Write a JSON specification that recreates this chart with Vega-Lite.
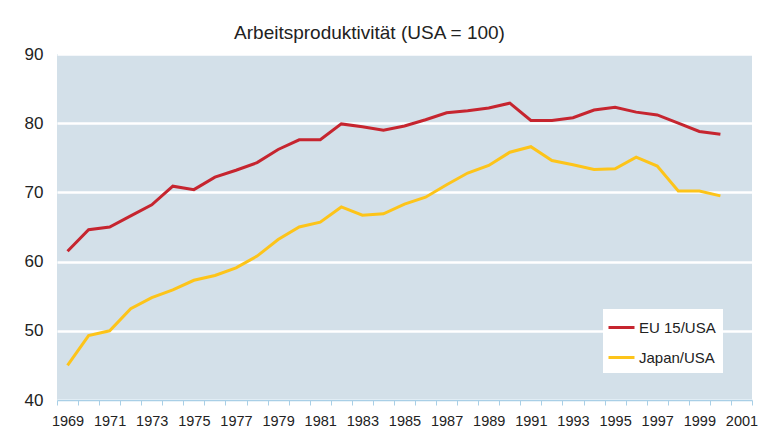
{
  "$schema": "https://vega.github.io/schema/vega-lite/v6.json",
  "width": 695,
  "height": 346,
  "autosize": {"type": "none"},
  "padding": {"left": 57, "top": 54, "right": 14, "bottom": 32},
  "background": "white",
  "view": {"fill": "#d3e0e9", "stroke": null},
  "config": {"font": "Liberation Sans"},
  "title": {"text": "Arbeitsproduktivität (USA = 100)", "fontSize": 19, "fontWeight": "normal", "color": "#222222", "offset": 14, "dy": 12, "anchor": "middle", "dx": -35},
  "data": {"values": [
    {"year": 1969, "series": "EU 15/USA", "value": 61.5},
    {"year": 1970, "series": "EU 15/USA", "value": 64.6},
    {"year": 1971, "series": "EU 15/USA", "value": 65.0},
    {"year": 1972, "series": "EU 15/USA", "value": 66.6},
    {"year": 1973, "series": "EU 15/USA", "value": 68.2},
    {"year": 1974, "series": "EU 15/USA", "value": 70.9},
    {"year": 1975, "series": "EU 15/USA", "value": 70.4},
    {"year": 1976, "series": "EU 15/USA", "value": 72.2},
    {"year": 1977, "series": "EU 15/USA", "value": 73.2},
    {"year": 1978, "series": "EU 15/USA", "value": 74.3},
    {"year": 1979, "series": "EU 15/USA", "value": 76.2},
    {"year": 1980, "series": "EU 15/USA", "value": 77.6},
    {"year": 1981, "series": "EU 15/USA", "value": 77.6},
    {"year": 1982, "series": "EU 15/USA", "value": 79.9},
    {"year": 1983, "series": "EU 15/USA", "value": 79.5},
    {"year": 1984, "series": "EU 15/USA", "value": 79.0},
    {"year": 1985, "series": "EU 15/USA", "value": 79.6},
    {"year": 1986, "series": "EU 15/USA", "value": 80.5},
    {"year": 1987, "series": "EU 15/USA", "value": 81.5},
    {"year": 1988, "series": "EU 15/USA", "value": 81.8},
    {"year": 1989, "series": "EU 15/USA", "value": 82.2},
    {"year": 1990, "series": "EU 15/USA", "value": 82.9},
    {"year": 1991, "series": "EU 15/USA", "value": 80.4},
    {"year": 1992, "series": "EU 15/USA", "value": 80.4},
    {"year": 1993, "series": "EU 15/USA", "value": 80.8},
    {"year": 1994, "series": "EU 15/USA", "value": 81.9},
    {"year": 1995, "series": "EU 15/USA", "value": 82.3},
    {"year": 1996, "series": "EU 15/USA", "value": 81.6},
    {"year": 1997, "series": "EU 15/USA", "value": 81.2},
    {"year": 1998, "series": "EU 15/USA", "value": 80.0},
    {"year": 1999, "series": "EU 15/USA", "value": 78.8},
    {"year": 2000, "series": "EU 15/USA", "value": 78.4},
    {"year": 1969, "series": "Japan/USA", "value": 45.0},
    {"year": 1970, "series": "Japan/USA", "value": 49.3},
    {"year": 1971, "series": "Japan/USA", "value": 50.0},
    {"year": 1972, "series": "Japan/USA", "value": 53.2},
    {"year": 1973, "series": "Japan/USA", "value": 54.8},
    {"year": 1974, "series": "Japan/USA", "value": 55.9},
    {"year": 1975, "series": "Japan/USA", "value": 57.3},
    {"year": 1976, "series": "Japan/USA", "value": 58.0},
    {"year": 1977, "series": "Japan/USA", "value": 59.1},
    {"year": 1978, "series": "Japan/USA", "value": 60.8},
    {"year": 1979, "series": "Japan/USA", "value": 63.2},
    {"year": 1980, "series": "Japan/USA", "value": 65.0},
    {"year": 1981, "series": "Japan/USA", "value": 65.7},
    {"year": 1982, "series": "Japan/USA", "value": 67.9},
    {"year": 1983, "series": "Japan/USA", "value": 66.7},
    {"year": 1984, "series": "Japan/USA", "value": 66.9},
    {"year": 1985, "series": "Japan/USA", "value": 68.3},
    {"year": 1986, "series": "Japan/USA", "value": 69.3},
    {"year": 1987, "series": "Japan/USA", "value": 71.1},
    {"year": 1988, "series": "Japan/USA", "value": 72.8},
    {"year": 1989, "series": "Japan/USA", "value": 73.9},
    {"year": 1990, "series": "Japan/USA", "value": 75.8},
    {"year": 1991, "series": "Japan/USA", "value": 76.6},
    {"year": 1992, "series": "Japan/USA", "value": 74.6},
    {"year": 1993, "series": "Japan/USA", "value": 74.0},
    {"year": 1994, "series": "Japan/USA", "value": 73.3},
    {"year": 1995, "series": "Japan/USA", "value": 73.4},
    {"year": 1996, "series": "Japan/USA", "value": 75.1},
    {"year": 1997, "series": "Japan/USA", "value": 73.8},
    {"year": 1998, "series": "Japan/USA", "value": 70.2},
    {"year": 1999, "series": "Japan/USA", "value": 70.2},
    {"year": 2000, "series": "Japan/USA", "value": 69.5}
  ]},
  "mark": {"type": "line", "strokeWidth": 3, "strokeJoin": "miter", "clip": false},
  "encoding": {
    "x": {
      "field": "year", "type": "quantitative",
      "scale": {"domain": [1968.5, 2001.5], "nice": false, "zero": false},
      "axis": {
        "title": null, "grid": false,
        "values": [1968.5, 1969.5, 1970.5, 1971.5, 1972.5, 1973.5, 1974.5, 1975.5, 1976.5, 1977.5, 1978.5, 1979.5, 1980.5, 1981.5, 1982.5, 1983.5, 1984.5, 1985.5, 1986.5, 1987.5, 1988.5, 1989.5, 1990.5, 1991.5, 1992.5, 1993.5, 1994.5, 1995.5, 1996.5, 1997.5, 1998.5, 1999.5, 2000.5, 2001.5],
        "labelExpr": "(datum.value + 0.5) % 2 == 1 ? format(datum.value + 0.5, 'd') : ''",
        "labelOffset": 10.5, "labelOverlap": false, "labelFlush": false, "labelBound": false,
        "labelFontSize": 14.5, "labelColor": "#222222", "labelPadding": 9,
        "domainColor": "#a9cfe6", "domainWidth": 1.5,
        "tickColor": "#a9cfe6", "tickSize": 5, "tickWidth": 1
      }
    },
    "y": {
      "field": "value", "type": "quantitative",
      "scale": {"domain": [40, 90], "nice": false, "zero": false},
      "axis": {
        "title": null, "values": [40, 50, 60, 70, 80, 90],
        "domain": false, "ticks": false,
        "grid": true, "gridColor": "white", "gridWidth": 2.5, "gridOpacity": 1,
        "labelFontSize": 17, "labelColor": "#222222", "labelPadding": 14
      }
    },
    "color": {
      "field": "series", "type": "nominal",
      "scale": {"domain": ["EU 15/USA", "Japan/USA"], "range": ["#c6252f", "#fdc41a"]},
      "legend": {
        "title": null, "orient": "none", "legendX": 546, "legendY": 255,
        "fillColor": "white", "padding": 7,
        "symbolType": "M-1.3,0H1.3", "symbolSize": 400, "symbolStrokeWidth": 3,
        "labelFontSize": 15, "labelColor": "#222222", "labelOffset": 6,
        "rowPadding": 10
      }
    }
  }
}
